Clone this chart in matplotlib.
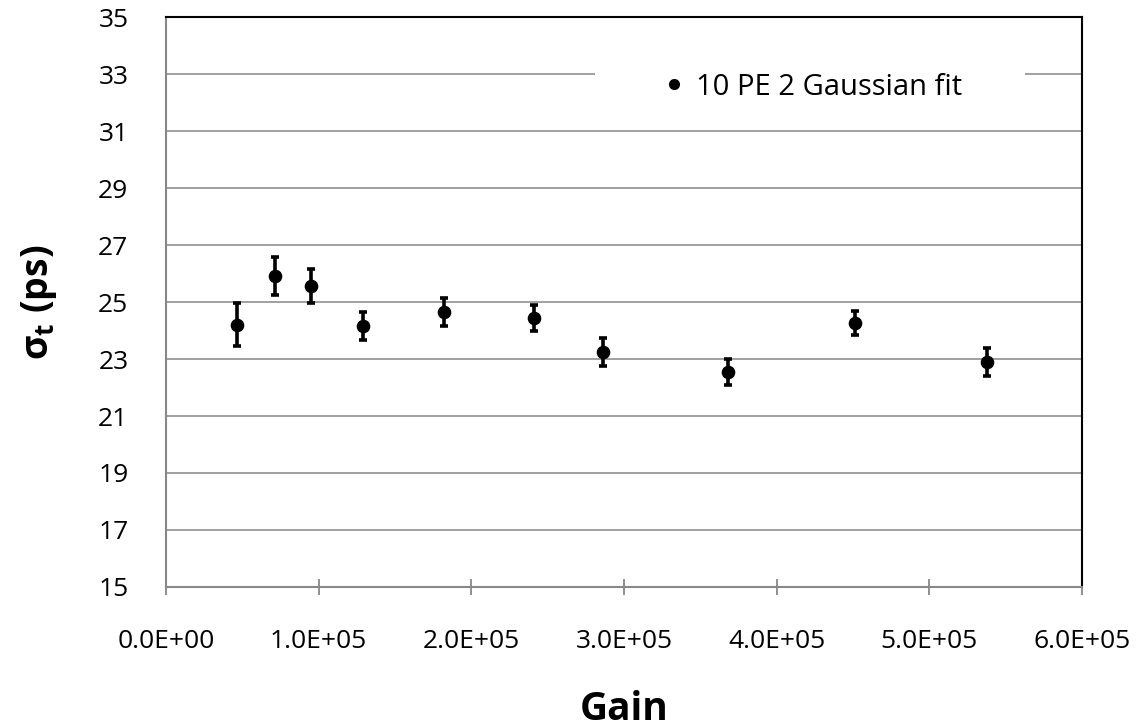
import matplotlib
matplotlib.use("Agg")
import matplotlib.pyplot as plt
from matplotlib.patches import Rectangle
from matplotlib.lines import Line2D

# values
gain = [46700, 71400, 95000, 129200, 182100, 241000, 286000, 368300, 451300, 537600]
sigma_t = [24.2, 25.9, 25.55, 24.15, 24.65, 24.45, 23.25, 22.55, 24.25, 22.9]
sigma_err = [0.76, 0.67, 0.6, 0.5, 0.48, 0.45, 0.5, 0.46, 0.42, 0.5]

xticks = [0, 1e5, 2e5, 3e5, 4e5, 5e5, 6e5]
xtick_labels = ["0.0E+00", "1.0E+05", "2.0E+05", "3.0E+05", "4.0E+05", "5.0E+05", "6.0E+05"]
yticks = [15, 17, 19, 21, 23, 25, 27, 29, 31, 33, 35]

plt.rcParams['font.family'] = ['Open Sans', 'DejaVu Sans']
plt.rcParams['mathtext.fontset'] = 'custom'
plt.rcParams['mathtext.rm'] = 'Open Sans'
plt.rcParams['mathtext.bf'] = 'Open Sans:bold'

fig = plt.figure(figsize=(11.4, 7.28), dpi=100)
ax = fig.add_axes([0.1456, 0.1937, 0.8035, 0.7829])

ax.errorbar(gain, sigma_t, yerr=sigma_err, fmt='o', color='black', ms=8.8,
            elinewidth=2.6, capsize=3.0, capthick=2.6, zorder=3)

ax.set_xlim(0, 6e5)
ax.set_ylim(15, 35)
ax.set_xticks(xticks)
ax.set_xticklabels(xtick_labels)
ax.set_yticks(yticks)

ax.yaxis.grid(True, color='#999999', linewidth=1.3)
ax.set_axisbelow(True)

for side in ['left', 'bottom']:
    ax.spines[side].set_color('#888888')
    ax.spines[side].set_linewidth(1.5)
for side in ['top', 'right']:
    ax.spines[side].set_color('black')
    ax.spines[side].set_linewidth(1.5)

ax.tick_params(axis='x', direction='inout', length=12, width=1.3, color='#888888',
               labelsize=19, pad=24)
ax.tick_params(axis='y', length=0, labelsize=19, pad=27)

ax.set_xlabel('Gain', fontsize=28, fontweight='bold', labelpad=26)
ax.set_ylabel('σ$_\\mathbf{t}$ (ps)', fontsize=27, fontweight='bold', labelpad=28)

# white box behind the legend (hides the gridline like the original)
ax.add_patch(Rectangle((0.468, 0.84), 0.47, 0.07, transform=ax.transAxes,
                       facecolor='white', edgecolor='none', zorder=2))
proxy = Line2D([], [], linestyle='none', marker='o', color='black', markersize=7)
ax.legend([proxy], ['10 PE 2 Gaussian fit'], loc='center', bbox_to_anchor=(0.707, 0.877),
          frameon=False, fontsize=21, handlelength=0.6, handletextpad=0.45)

fig.savefig('out.png', dpi=100)
